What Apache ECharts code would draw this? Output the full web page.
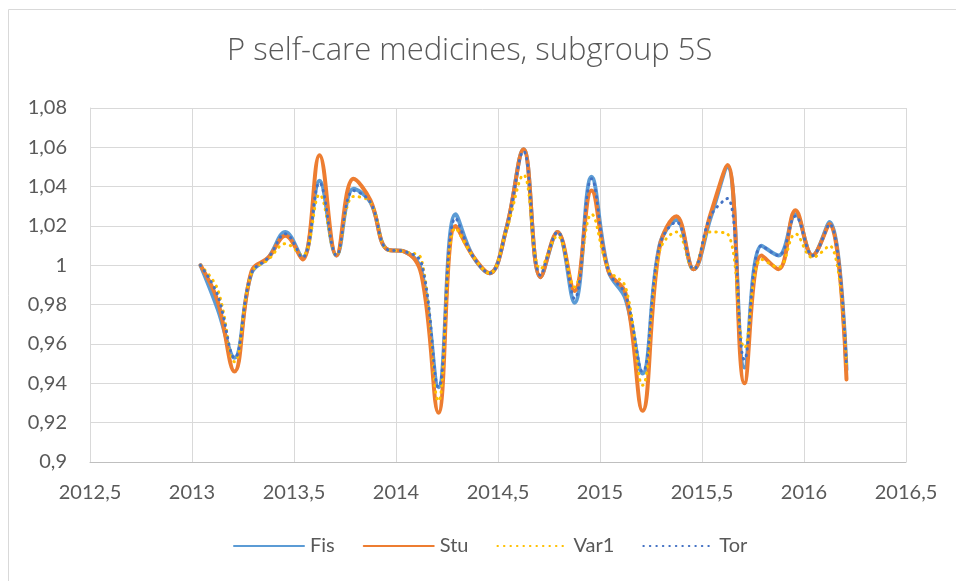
<!DOCTYPE html>
<html>
<head>
<meta charset="utf-8">
<script src="https://cdn.jsdelivr.net/npm/echarts@6/dist/echarts.min.js"></script>
<style>
  html, body { margin: 0; padding: 0; background: #fff; }
  #chart { width: 956px; height: 581px; }
</style>
</head>
<body>
<div id="chart"></div>
<script>
// periods (monthly), plotted at the middle of each month as a decimal year
const periods = [
  '2013-01', '2013-02', '2013-03', '2013-04', '2013-05', '2013-06', '2013-07', '2013-08', '2013-09', '2013-10', '2013-11', '2013-12',
  '2014-01', '2014-02', '2014-03', '2014-04', '2014-05', '2014-06', '2014-07', '2014-08', '2014-09', '2014-10', '2014-11', '2014-12',
  '2015-01', '2015-02', '2015-03', '2015-04', '2015-05', '2015-06', '2015-07', '2015-08', '2015-09', '2015-10', '2015-11', '2015-12',
  '2016-01', '2016-02', '2016-03'
]

const fis = [
  1.000, 0.978, 0.953, 0.996, 1.004, 1.017, 1.004, 1.043, 1.005, 1.039, 1.032, 1.008,
  1.007, 0.997, 0.938, 1.026, 1.005, 0.996, 1.019, 1.059, 0.994, 1.017, 0.981, 1.045,
  0.997, 0.983, 0.945, 1.010, 1.023, 0.998, 1.024, 1.050, 0.948, 1.010, 1.005, 1.026,
  1.005, 1.022, 0.947
]
const stu = [
  1.000, 0.982, 0.946, 0.997, 1.004, 1.015, 1.003, 1.056, 1.005, 1.044, 1.033, 1.008,
  1.007, 0.995, 0.925, 1.020, 1.005, 0.996, 1.019, 1.059, 0.994, 1.017, 0.987, 1.038,
  0.997, 0.986, 0.926, 1.009, 1.025, 0.998, 1.026, 1.051, 0.940, 1.005, 0.998, 1.028,
  1.005, 1.021, 0.942
]
const var1 = [
  1.000, 0.988, 0.951, 0.996, 1.003, 1.011, 1.005, 1.036, 1.005, 1.035, 1.032, 1.008,
  1.007, 1.003, 0.931, 1.019, 1.005, 0.996, 1.018, 1.046, 0.998, 1.015, 0.989, 1.026,
  0.998, 0.989, 0.939, 1.007, 1.017, 0.998, 1.017, 1.016, 0.958, 1.003, 0.999, 1.016,
  1.004, 1.010, 0.950
]
const tor = [
  1.000, 0.985, 0.953, 0.996, 1.004, 1.016, 1.004, 1.042, 1.005, 1.038, 1.032, 1.008,
  1.007, 1.001, 0.938, 1.024, 1.005, 0.996, 1.019, 1.058, 0.995, 1.017, 0.983, 1.044,
  0.997, 0.985, 0.946, 1.010, 1.022, 0.998, 1.025, 1.034, 0.952, 1.010, 1.005, 1.025,
  1.005, 1.021, 0.948
]

const xTicks = ['2012,5', '2013', '2013,5', '2014', '2014,5', '2015', '2015,5', '2016', '2016,5']
const yTicks = ['0,9', '0,92', '0,94', '0,96', '0,98', '1', '1,02', '1,04', '1,06', '1,08']

function toYear (p) {
  const parts = p.split('-')
  return Number(parts[0]) + (Number(parts[1]) - 0.5) / 12
}

function pairs (values) {
  return values.map(function (v, i) { return [toYear(periods[i]), v] })
}

const font = 'Lato, "Open Sans", sans-serif'
const textColor = '#595959'
const gridColor = '#d9d9d9'

function lineSeries (name, values, color, width, type) {
  return {
    name: name,
    type: 'line',
    data: pairs(values),
    smooth: 0.4,
    showSymbol: false,
    symbol: 'none',
    lineStyle: { color: color, width: width, type: type, cap: 'round' },
    itemStyle: { color: color },
    emphasis: { disabled: true }
  }
}

const chart = echarts.init(document.getElementById('chart'))
chart.setOption({
  animation: false,
  title: {
    text: 'P self-care medicines, subgroup 5S',
    left: 222,
    top: 31,
    textStyle: { fontFamily: '"Open Sans", Lato, sans-serif', fontSize: 31, fontWeight: 300, color: textColor }
  },
  graphic: [{
    type: 'rect',
    shape: { x: 8.5, y: 9.5, width: 960, height: 600 },
    style: { fill: 'none', stroke: gridColor, lineWidth: 1 },
    silent: true
  }],
  legend: {
    bottom: 20,
    left: 228,
    itemWidth: 70,
    itemHeight: 12,
    itemGap: 28,
    itemStyle: { opacity: 0 },
    textStyle: { fontFamily: font, fontSize: 20, color: textColor, padding: [0, 0, 0, 1] },
    data: ['Fis', 'Stu', 'Var1', 'Tor']
  },
  grid: { left: 90, right: 50, top: 108, bottom: 119 },
  xAxis: {
    type: 'value',
    min: 2012.5,
    max: 2016.5,
    interval: 0.5,
    axisLine: { show: true, lineStyle: { color: '#bfbfbf', width: 1 } },
    axisTick: { show: false },
    splitLine: { show: true, lineStyle: { color: gridColor, width: 1 } },
    axisLabel: {
      fontFamily: font,
      fontSize: 20,
      color: textColor,
      margin: 21,
      formatter: function (v) { return xTicks[Math.round((v - 2012.5) / 0.5)] }
    }
  },
  yAxis: {
    type: 'value',
    min: 0.9,
    max: 1.08,
    interval: 0.02,
    axisLine: { show: true, lineStyle: { color: gridColor, width: 1 } },
    axisTick: { show: false },
    splitLine: { show: true, lineStyle: { color: gridColor, width: 1 } },
    axisLabel: {
      fontFamily: font,
      fontSize: 20,
      color: textColor,
      margin: 23,
      formatter: function (v) { return yTicks[Math.round((v - 0.9) / 0.02)] }
    }
  },
  series: [
    lineSeries('Fis', fis, '#5b9bd5', 4, 'solid'),
    lineSeries('Stu', stu, '#ed7d31', 4, 'solid'),
    lineSeries('Var1', var1, '#ffc000', 3, [0.5, 6]),
    lineSeries('Tor', tor, '#4472c4', 3, [0.5, 6])
  ]
})
</script>
</body>
</html>
